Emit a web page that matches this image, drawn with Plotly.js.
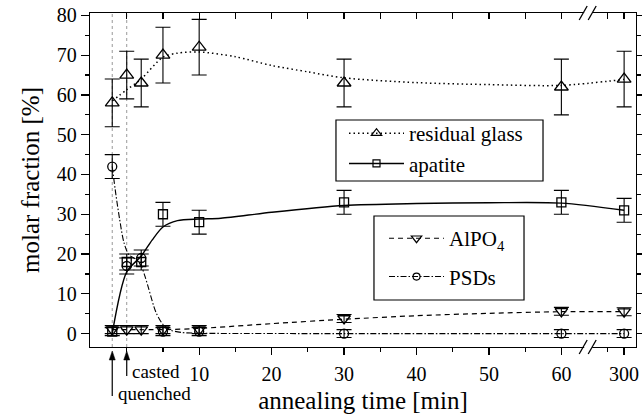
<!DOCTYPE html>
<html><head><meta charset="utf-8">
<script src="https://cdn.plot.ly/plotly-3.0.1.min.js"></script>
<style>html,body{margin:0;padding:0;background:#fff}#plot{width:642px;height:419px}</style>
</head><body><div id="plot"></div>
<script>
// ---- measured data (annealing time in min) ----
const time = [-2, 0, 2, 5, 10, 30, 60, 300];
const glass = [58, 65, 63, 70, 72, 63, 62, 64];
const glassErr = [6, 6, 6, 7, 7, 6, 7, 7];
const apatite = [0.5, 18, 18, 30, 28, 33, 33, 31];
const apatiteErr = [1, 2, 2, 3, 3, 3, 3, 3];
const alpo4 = [1, 1, 1, 1, 1, 3.8, 5.6, 5.5];
const alpo4Err = [1, 1, 1, 1, 1, 1, 1, 1];
const psds = [42, 17, 19, 0.5, 0.5, 0, 0, 0];
const psdsErr = [3, 2, 2, 1, 1, 1, 1, 1];

// ---- guide curves ----
const glassFitT = [-2, 0, 2, 5, 7, 10, 15, 20, 25, 30, 40, 50, 60, 300];
const glassFitY = [58.5, 61.3, 64, 69.5, 70.5, 70.8, 69.6, 67.4, 65.8, 64.3, 63.1, 62.6, 62.4, 63.9];
const apatiteFitT = [-2, 0, 2, 3.5, 5, 7, 10, 13, 20, 30, 40, 50, 60, 300];
const apatiteFitY = [0, 15.5, 19.5, 23.5, 26.8, 28.4, 28.8, 29, 30.5, 32.2, 32.7, 32.9, 32.8, 31];
const alpo4FitT = [-2, 5, 10, 20, 30, 40, 50, 60, 300];
const alpo4FitY = [1, 1, 1.3, 2.5, 3.6, 4.5, 5.1, 5.5, 5.5];
const psdsFitT = [-2, -1.5, -1, -0.4, 0.3, 1.2, 2, 2.5, 3, 4, 5, 6, 7.5, 10, 30, 60, 300];
const psdsFitY = [42, 35, 29, 23, 19.8, 18.8, 17, 14.5, 11.5, 5.5, 2.3, 0.9, 0.3, 0.1, 0, 0, 0];

// ---- axis ticks ----
const xTickT = [10, 20, 30, 40, 50, 60, 300];
const xTickText = ['10', '20', '30', '40', '50', '60', '300'];
const xMinorT = [0, 5, 15, 25, 35, 45, 55, 297.7];
const xTopT = [0, 5, 10, 15, 20, 25, 30, 35, 40, 45, 50, 55, 60, 297.7, 300];
const yTicks = [0, 10, 20, 30, 40, 50, 60, 70, 80];

// broken time axis: values beyond the break are shifted onto the axis
const BREAK_T = 100, SHIFT = 231.34, BREAK_POS = 63.7;
const pos = t => (t > BREAK_T ? t - SHIFT : t);
const P = arr => arr.map(pos);

const FONT = 'Liberation Serif, Times New Roman, serif';
const K = '#000';

function markers(y, err, symbol, size) {
  return {x: P(time), y: y, type: 'scatter', mode: 'markers', showlegend: false,
    marker: {symbol: symbol, size: size, color: K, line: {color: K, width: 1.3}},
    error_y: {type: 'data', array: err, visible: true, color: K, thickness: 1.1, width: 7.5}, cliponaxis: false};
}
function curve(t, y, dash, w) {
  return {x: P(t), y: y, type: 'scatter', mode: 'lines', showlegend: false,
    line: {color: K, width: w, dash: dash, shape: 'spline', smoothing: 0.8}};
}
function legendItem(name, dash, w, symbol, size, legend, group) {
  return {x: [null], y: [null], xaxis: 'x2', type: 'scatter', mode: 'lines+markers', name: name,
    legend: legend, legendgroup: group,
    line: {color: K, width: w, dash: dash},
    marker: {symbol: symbol, size: size, color: K, line: {color: K, width: 1.2}}};
}

const DOT = '1.5px,3px', DASH = '5px,4px', DASHDOT = '6px,2px,1.5px,2px';

const data = [
  curve(glassFitT, glassFitY, DOT, 1.5),
  curve(apatiteFitT, apatiteFitY, 'solid', 1.4),
  curve(alpo4FitT, alpo4FitY, DASH, 1.2),
  curve(psdsFitT, psdsFitY, DASHDOT, 1.1),
  markers(glass, glassErr, 'triangle-up-open', 12),
  markers(apatite, apatiteErr, 'square-open', 9),
  markers(alpo4, alpo4Err, 'triangle-down-open', 11),
  markers(psds, psdsErr, 'circle-open', 9),
  legendItem('residual glass', DOT, 1.5, 'triangle-up-open', 9, 'legend', 'g1'),
  legendItem('apatite', 'solid', 1.4, 'square-open', 7, 'legend', 'g2'),
  legendItem('AlPO<sub>4</sub>', DASH, 1.2, 'triangle-down-open', 9, 'legend2', 'g3'),
  legendItem('PSDs', DASHDOT, 1.1, 'circle-open', 7, 'legend2', 'g4')
];

const xr = [-5.07, 70.3];
const tickFont = {family: FONT, size: 20, color: K};
const legFont = {family: FONT, size: 21, color: K};

// arrow (shaft + head) pointing up at the time axis, in pixel offsets
function arrowShapes(t, len) {
  return [
    {type: 'line', xref: 'x', yref: 'paper', xsizemode: 'pixel', ysizemode: 'pixel', xanchor: pos(t), yanchor: 0,
      x0: 0, x1: 0, y0: -10, y1: -len, line: {color: K, width: 1.2}, layer: 'above'},
    {type: 'path', xref: 'x', yref: 'paper', xsizemode: 'pixel', ysizemode: 'pixel', xanchor: pos(t), yanchor: 0,
      path: 'M0,-4 L-3,-13 L3,-13 Z', fillcolor: K, line: {color: K, width: 0.5}, layer: 'above'}
  ];
}

const layout = {
  width: 642, height: 419,
  margin: {l: 90, r: 6, t: 13, b: 72},
  paper_bgcolor: '#fff', plot_bgcolor: '#fff',
  font: {family: FONT, color: K},
  xaxis: {range: xr, showline: true, linecolor: K, linewidth: 1.3, zeroline: false, showgrid: false,
    ticks: 'outside', tickmode: 'array', tickvals: P(xTickT), ticktext: xTickText,
    ticklen: 7, tickwidth: 1.3, tickcolor: K, tickfont: tickFont, ticklabelstandoff: 2,
    minor: {tickmode: 'array', tickvals: P(xMinorT), ticks: 'outside', ticklen: 4, tickwidth: 1.3, tickcolor: K, showgrid: false},
    title: {text: 'annealing time [min]', font: {family: FONT, size: 25, color: K}, standoff: 7}},
  xaxis2: {overlaying: 'x', side: 'top', anchor: 'y', range: xr, showline: true, linecolor: K, linewidth: 1.3,
    zeroline: false, showgrid: false, ticks: 'inside', tickmode: 'array', tickvals: P(xTopT),
    ticklen: 6, tickwidth: 1.3, tickcolor: K, showticklabels: false},
  yaxis: {range: [-3.37, 80.6], showline: true, linecolor: K, linewidth: 1.3, mirror: 'ticks', zeroline: false, showgrid: false,
    ticks: 'outside', tickmode: 'array', tickvals: yTicks, ticklen: 8, tickwidth: 1.3, tickcolor: K, tickfont: tickFont,
    minor: {dtick: 5, ticks: 'outside', ticklen: 4, tickwidth: 1.3, tickcolor: K, showgrid: false},
    title: {text: 'molar fraction [%]', font: {family: FONT, size: 25, color: K}, standoff: 10}},
  legend: {x: 0.4652, y: 0.7006, xanchor: 'left', yanchor: 'top', bgcolor: 'rgba(0,0,0,0)', borderwidth: 0,
    font: legFont, itemwidth: 55, tracegroupgap: 0, traceorder: 'grouped'},
  legend2: {x: 0.5385, y: 0.386, xanchor: 'left', yanchor: 'top', bgcolor: 'rgba(0,0,0,0)', borderwidth: 0,
    font: legFont, itemwidth: 55, tracegroupgap: 8, traceorder: 'grouped'},
  shapes: [
    {type: 'line', xref: 'x', yref: 'paper', x0: pos(time[0]), x1: pos(time[0]), y0: 0, y1: 1, layer: 'below',
      line: {color: '#999', width: 1, dash: 'dot'}},
    {type: 'line', xref: 'x', yref: 'paper', x0: pos(time[1]), x1: pos(time[1]), y0: 0, y1: 1, layer: 'below',
      line: {color: '#999', width: 1, dash: 'dot'}},
    // legend frames
    {type: 'rect', xref: 'paper', yref: 'paper', x0: 0.4505, x1: 0.8297, y0: 0.497, y1: 0.6796,
      fillcolor: '#fff', line: {color: K, width: 1.2}, layer: 'above'},
    {type: 'rect', xref: 'paper', yref: 'paper', x0: 0.5201, x1: 0.7949, y0: 0.1407, y1: 0.3922,
      fillcolor: '#fff', line: {color: K, width: 1.2}, layer: 'above'},
    // axis break marks
    {type: 'rect', xref: 'x', yref: 'paper', xsizemode: 'pixel', ysizemode: 'pixel', xanchor: BREAK_POS, yanchor: 0,
      x0: -4, x1: 4, y0: -3, y1: 3, fillcolor: '#fff', line: {width: 0}, layer: 'above'},
    {type: 'rect', xref: 'x', yref: 'paper', xsizemode: 'pixel', ysizemode: 'pixel', xanchor: BREAK_POS, yanchor: 1,
      x0: -4, x1: 4, y0: -3, y1: 3, fillcolor: '#fff', line: {width: 0}, layer: 'above'},
    {type: 'line', xref: 'x', yref: 'paper', xsizemode: 'pixel', ysizemode: 'pixel', xanchor: BREAK_POS, yanchor: 0,
      x0: -9, x1: -1, y0: -7, y1: 7, line: {color: K, width: 1.3}, layer: 'above'},
    {type: 'line', xref: 'x', yref: 'paper', xsizemode: 'pixel', ysizemode: 'pixel', xanchor: BREAK_POS, yanchor: 0,
      x0: 0, x1: 8, y0: -7, y1: 7, line: {color: K, width: 1.3}, layer: 'above'},
    {type: 'line', xref: 'x', yref: 'paper', xsizemode: 'pixel', ysizemode: 'pixel', xanchor: BREAK_POS, yanchor: 1,
      x0: -9, x1: -1, y0: -7, y1: 7, line: {color: K, width: 1.3}, layer: 'above'},
    {type: 'line', xref: 'x', yref: 'paper', xsizemode: 'pixel', ysizemode: 'pixel', xanchor: BREAK_POS, yanchor: 1,
      x0: 0, x1: 8, y0: -7, y1: 7, line: {color: K, width: 1.3}, layer: 'above'}
  ].concat(arrowShapes(time[0], 49), arrowShapes(time[1], 29)),
  annotations: [
    {xref: 'x', yref: 'paper', x: pos(time[1]), y: -0.072, xanchor: 'left', yanchor: 'middle', xshift: 3,
      text: 'casted', showarrow: false, font: {family: FONT, size: 19, color: K}},
    {xref: 'x', yref: 'paper', x: pos(time[0]), y: -0.138, xanchor: 'left', yanchor: 'middle', xshift: 4,
      text: 'quenched', showarrow: false, font: {family: FONT, size: 19, color: K}}
  ]
};

Plotly.newPlot('plot', data, layout, {displayModeBar: false, staticPlot: true});
</script></body></html>
